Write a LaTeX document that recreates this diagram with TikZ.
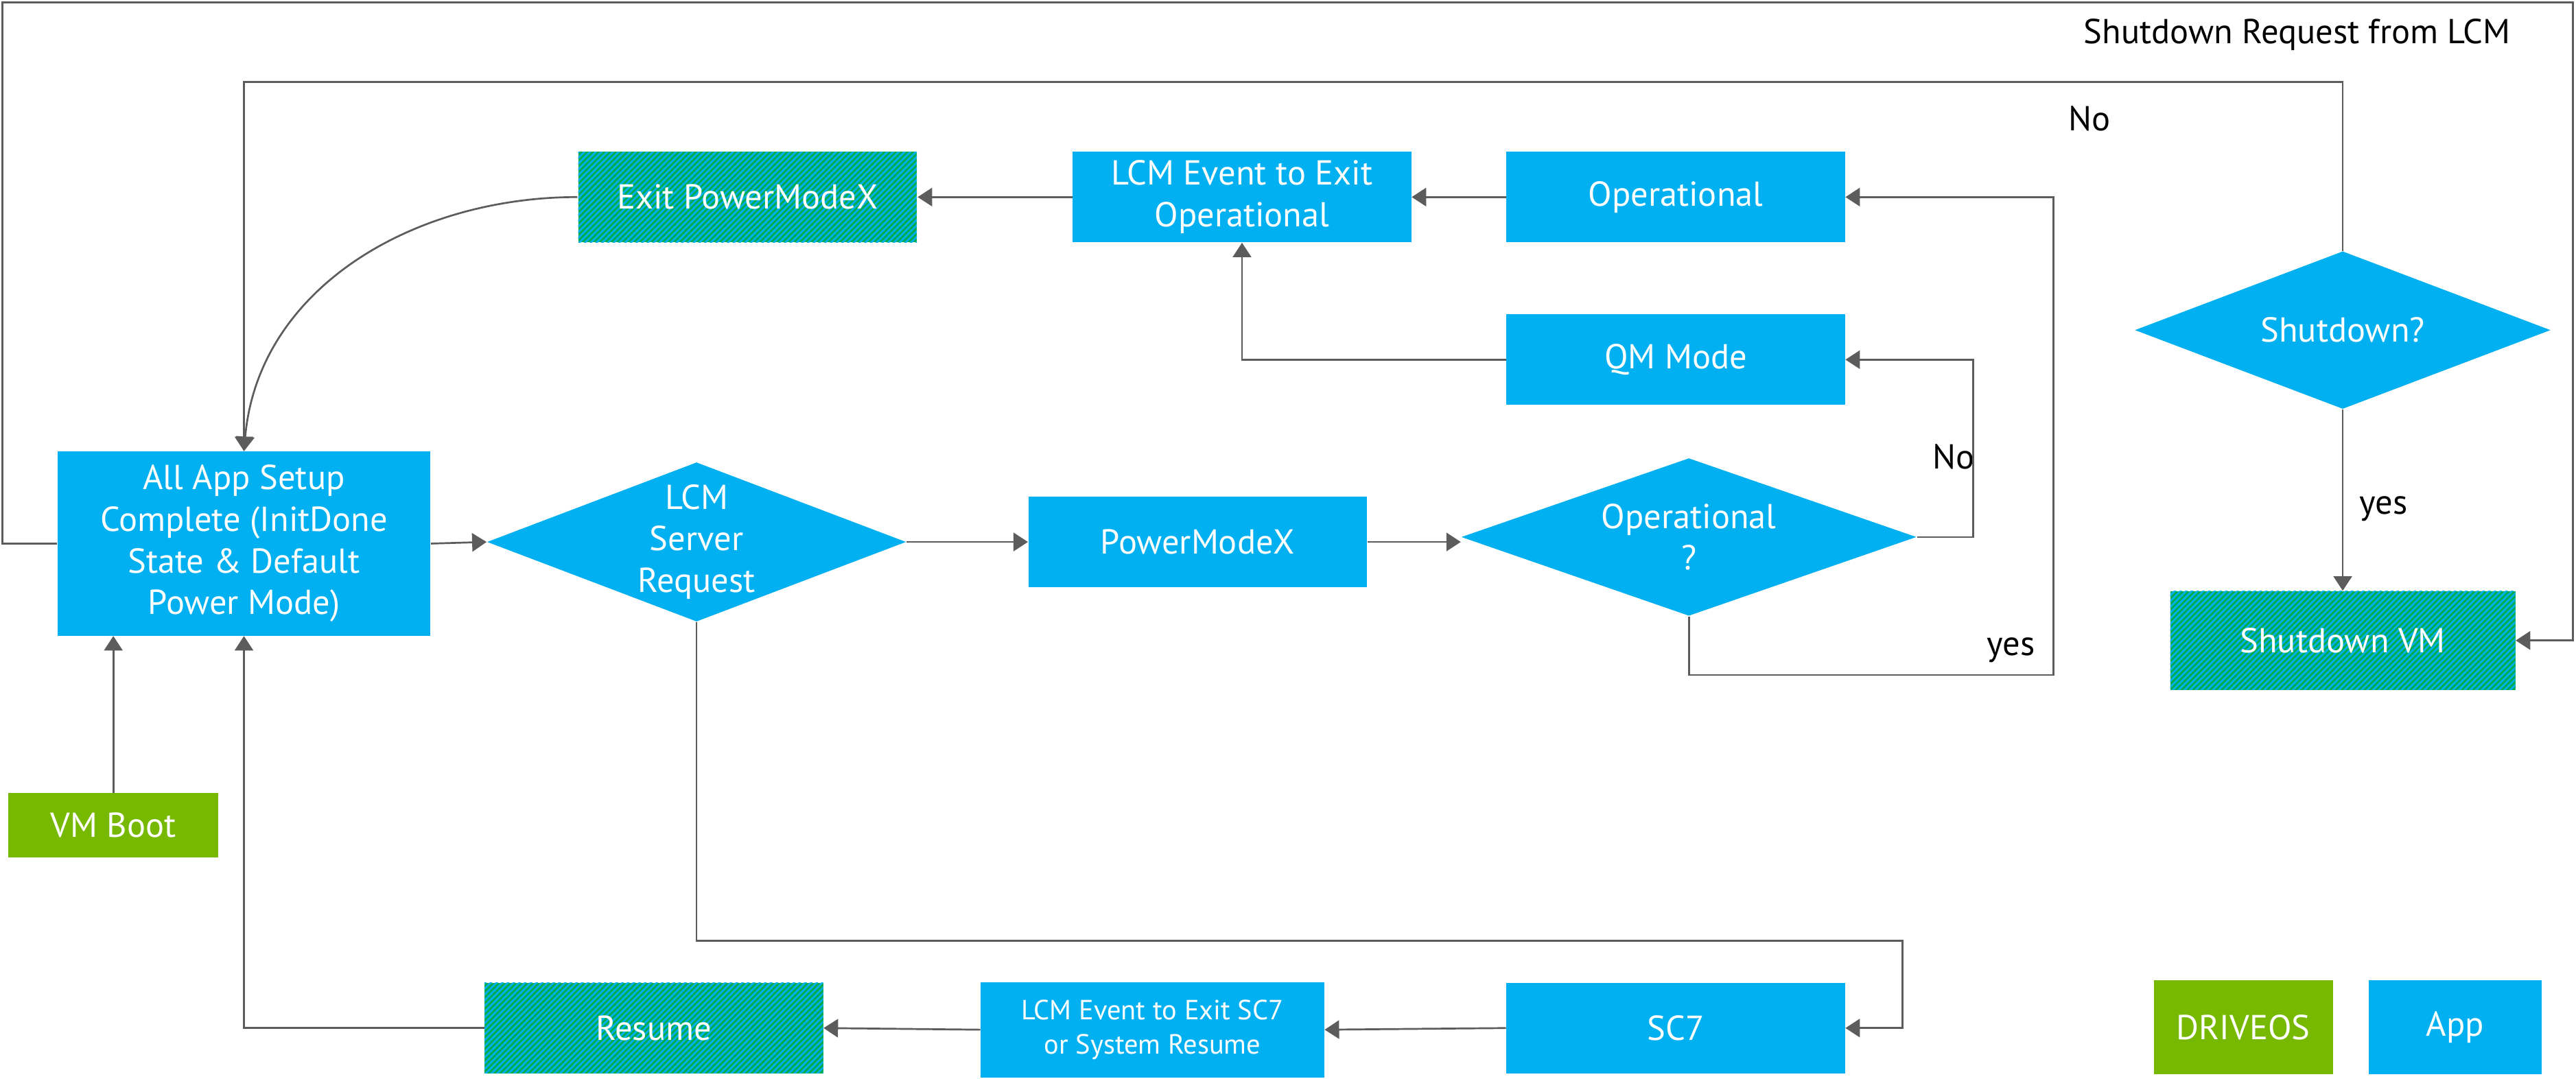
\documentclass[tikz,border=0pt]{standalone}
\usepackage{fontspec}
\setmainfont{PT Sans}
\usetikzlibrary{shapes.geometric, arrows.meta, patterns.meta}
\definecolor{appblue}{RGB}{0,176,240}
\definecolor{osgreen}{RGB}{118,185,0}
\definecolor{exitgreen}{RGB}{0,172,80}
\definecolor{linegray}{RGB}{92,92,92}

\begin{document}
\begin{tikzpicture}[x=0.025cm, y=-0.025cm, font=\fontsize{15}{18}\selectfont,
  app/.style={fill=appblue, text=white, align=center, inner sep=1pt,
    minimum width=5.15cm, minimum height=1.375cm},
  hatchbox/.style={preaction={fill=exitgreen}, pattern color=appblue,
    pattern={Lines[angle=45, distance=1.75pt, line width=0.8pt]},
    text=white, align=center, inner sep=1pt, minimum width=5.15cm, minimum height=1.375cm},
  decision/.style 2 args={diamond, fill=appblue, inner sep=0pt,
    minimum width=#1, minimum height=#2},
  inlbl/.style={text=white, align=center},
  wire/.style={draw=linegray, line width=0.8pt},
  arr/.style={wire, -{Triangle[length=0.22cm, width=0.28cm]}}]
  \useasboundingbox (0,0) rectangle (1568,657);

  \node[app, minimum width=5.675cm, minimum height=2.8cm] (allapp) at (148.5,331)
    {All App Setup\\Complete (InitDone\\State \& Default\\Power Mode)};
  \node[app, fill=osgreen, minimum width=3.2cm, minimum height=0.975cm] (vmboot) at (69,502.5) {VM Boot};
  \node[decision={6.375cm}{2.425cm}, label={[inlbl]center:{LCM\\Server\\Request}}] (lcmreq) at (424,330) {};
  \node[app] (pmx) at (729,330) {PowerModeX};
  \node[decision={6.925cm}{2.4cm}, label={[inlbl]center:{Operational\\?}}] (opq) at (1028,327) {};
  \node[app] (qm) at (1020,219) {QM Mode};
  \node[app] (oper) at (1020,120) {Operational};
  \node[app] (lcmop) at (756,120) {LCM Event to Exit\\Operational};
  \node[hatchbox] (exitpm) at (455,120) {Exit PowerModeX};
  \node[decision={6.325cm}{2.4cm}, label={[inlbl]center:{Shutdown?}}] (shutq) at (1426,201) {};
  \node[hatchbox, minimum width=5.25cm, minimum height=1.5cm] (shutvm) at (1426,390) {Shutdown VM};
  \node[app] (sc7) at (1020,626) {SC7};
  \node[app, minimum width=5.225cm, minimum height=1.45cm, font=\fontsize{12}{15}\selectfont] (lcmsc7)
    at (701.5,627) {LCM Event to Exit SC7\\or System Resume};
  \node[hatchbox] (resume) at (398,626) {Resume};
  \node[app, fill=osgreen, minimum width=2.725cm, minimum height=1.425cm] (drive) at (1365.5,625.5) {DRIVEOS};
  \node[app, minimum width=2.625cm, minimum height=1.425cm] (applgd) at (1494.5,625.5) {App};

  \node[anchor=east] (shutreq) at (1533,21) {Shutdown Request from LCM};
  \node (noshut) at (1272,72) {No};
  \node (noop) at (1189,278) {No};
  \node (yesop) at (1224,396) {yes};
  \node (yesshut) at (1451,310) {yes};

  \draw[arr] (allapp.west) -- (1.5,331) |- (1566,1.5) |- (shutvm.east);
  \draw[arr] (shutq.north) -- (shutq.north |- 0,50) -| (allapp.north);
  \draw[arr] (shutq.south) -- (shutvm.north);
  \draw[arr] (allapp.east) -- (lcmreq.west);
  \draw[arr] (lcmreq.east) -- (pmx.west);
  \draw[arr] (pmx.east) -- (pmx.east -| opq.west);
  \draw[arr] (opq.east) -- (1201,327) |- (qm.east);
  \draw[arr] (opq.south) |- (1250,411) |- (oper.east);
  \draw[arr] (oper.west) -- (lcmop.east);
  \draw[arr] (qm.west) -| (lcmop.south);
  \draw[arr] (lcmop.west) -- (exitpm.east);
  \draw[arr] (exitpm.west) to[out=180, in=85] (allapp.north);
  \draw[arr] (lcmreq.south) |- (1158,573) |- (sc7.east);
  \draw[arr] (sc7.west) -- (lcmsc7.east);
  \draw[arr] (lcmsc7.west) -- (resume.east);
  \draw[arr] (resume.west) -| (allapp.south);
  \draw[arr] (vmboot.north) -- (vmboot.north |- allapp.south);
\end{tikzpicture}
\end{document}
